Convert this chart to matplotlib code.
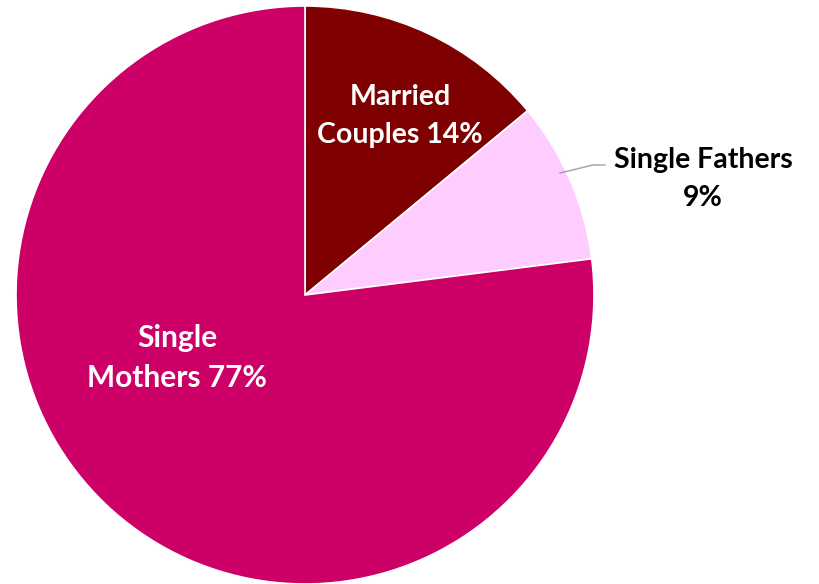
import matplotlib.pyplot as plt

# 数据
categories = ['Married Couples', 'Single Fathers', 'Single Mothers']
shares = [14, 9, 77]
colors = ['#7F0000', '#FFCCFF', '#CC0066']

plt.rcParams['font.family'] = ['Lato', 'DejaVu Sans']

fig = plt.figure(figsize=(8.2, 5.84), dpi=100)
ax = fig.add_axes([0, 0, 1, 1])

# 饼图，按像素坐标放置
cx, cy, r = 305, 584 - 295, 289
wedges, _ = ax.pie(shares, colors=colors, startangle=90, counterclock=False,
                   center=(cx, cy), radius=r,
                   wedgeprops=dict(edgecolor='white', linewidth=1.2))
ax.set_xlim(0, 820)
ax.set_ylim(0, 584)
ax.set_aspect('auto')
ax.axis('off')

# 标签
fs = 20.5
ax.text(400, 584 - 116, 'Married\nCouples %d%%' % shares[0], color='white',
        fontsize=fs, fontweight='bold', ha='center', va='center', linespacing=1.55)
ax.text(703, 584 - 179, 'Single Fathers\n%d%%' % shares[1], color='black',
        fontsize=fs, fontweight='bold', ha='center', va='center', linespacing=1.55)
ax.text(177, 584 - 358, 'Single\nMothers %d%%' % shares[2], color='white',
        fontsize=21.5, fontweight='bold', ha='center', va='center', linespacing=1.5)

# 引导线
ax.plot([560, 593, 605], [584 - 173, 584 - 165, 584 - 165], color='#A0A0A0', lw=1)

fig.savefig('out.png', dpi=100)
